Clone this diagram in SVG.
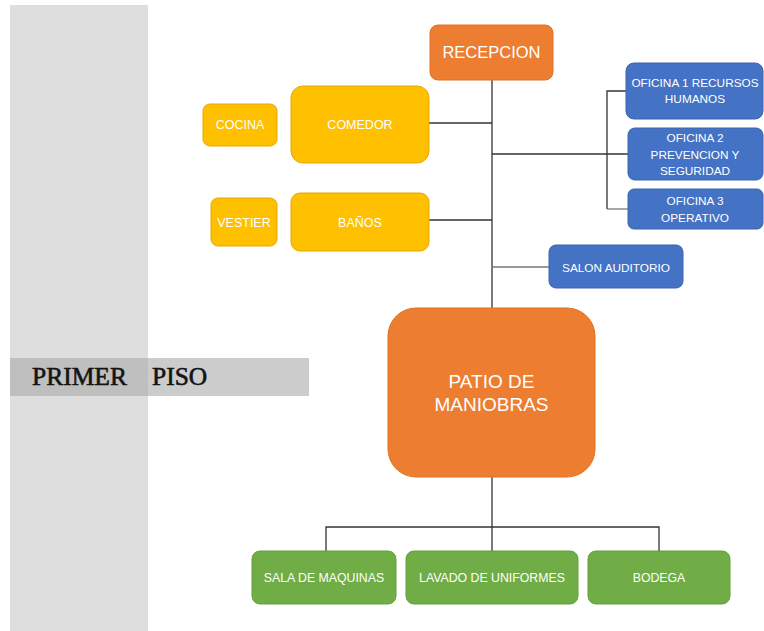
<svg xmlns="http://www.w3.org/2000/svg" width="764" height="631" viewBox="0 0 764 631">
<style>
.t{font-family:"Liberation Sans",Arial,sans-serif;fill:#ffffff;text-anchor:middle}
.or{fill:#ed7d31;stroke:#e07020;stroke-width:1}
.ye{fill:#ffc000;stroke:#e6a800;stroke-width:1}
.bl{fill:#4472c4;stroke:#3a64b0;stroke-width:1}
.gr{fill:#70ad47;stroke:#62a03c;stroke-width:1}
.c{fill:none;stroke:#333333;stroke-width:1.3}
.cl{fill:none;stroke:#777777;stroke-width:1.3}
.fl{font-family:"Liberation Serif","Times New Roman",serif;font-size:25.5px;fill:#141414;stroke:#141414;stroke-width:0.6}
</style>
<rect width="764" height="631" fill="#ffffff"/>
<g id="floor-label">
<rect x="10" y="5" width="138" height="626" fill="#dedede"/>
<rect x="148" y="358" width="161" height="38" fill="#cccccc"/>
<rect x="10" y="358" width="138" height="38" fill="#bfbfbf"/>
<text class="fl" x="32" y="385">PRIMER</text>
<text class="fl" x="152" y="385">PISO</text>
</g>
<g id="connectors">
<path class="c" d="M492 80V308"/>
<path class="c" d="M429 123H492"/>
<path class="c" d="M429 220H492"/>
<path class="c" d="M492 154H628"/>
<path class="c" d="M626 91H607V209"/>
<path class="cl" d="M607 209H628"/>
<path class="cl" d="M492 267H549"/>
<path class="c" d="M492 477V551"/>
<path class="c" d="M326 551V527H659V551"/>
</g>
<g id="recepcion"><rect class="or" x="430" y="25" width="123" height="55" rx="8"/><text class="t" x="491.5" y="58" font-size="16.5">RECEPCION</text></g>
<g id="cocina"><rect class="ye" x="203" y="104" width="74" height="42" rx="7"/><text class="t" x="240" y="129" font-size="12.5">COCINA</text></g>
<g id="comedor"><rect class="ye" x="291" y="86" width="138" height="77" rx="12"/><text class="t" x="360" y="129" font-size="12.5">COMEDOR</text></g>
<g id="vestier"><rect class="ye" x="211" y="198" width="66" height="48" rx="7"/><text class="t" x="244" y="227" font-size="12.5">VESTIER</text></g>
<g id="banos"><rect class="ye" x="291" y="193" width="138" height="58" rx="9"/><text class="t" x="360" y="227" font-size="12.5">BAÑOS</text></g>
<g id="oficina1"><rect class="bl" x="626" y="63" width="137" height="56" rx="8"/><text class="t" x="695" y="87" font-size="11.8">OFICINA 1 RECURSOS</text><text class="t" x="695" y="103" font-size="11.8">HUMANOS</text></g>
<g id="oficina2"><rect class="bl" x="628" y="128" width="135" height="52" rx="7"/><text class="t" x="695" y="142" font-size="11.8">OFICINA 2</text><text class="t" x="695" y="158.5" font-size="11.8">PREVENCION Y</text><text class="t" x="695" y="175" font-size="11.8">SEGURIDAD</text></g>
<g id="oficina3"><rect class="bl" x="628" y="189" width="135" height="40" rx="6"/><text class="t" x="695" y="205" font-size="11.8">OFICINA 3</text><text class="t" x="695" y="222" font-size="11.8">OPERATIVO</text></g>
<g id="salon"><rect class="bl" x="549" y="245" width="134" height="43" rx="7"/><text class="t" x="616" y="272" font-size="11.8">SALON AUDITORIO</text></g>
<g id="patio"><rect class="or" x="388" y="308" width="207" height="169" rx="28"/><text class="t" x="491.5" y="388" font-size="19">PATIO DE</text><text class="t" x="491.5" y="411" font-size="19">MANIOBRAS</text></g>
<g id="sala"><rect class="gr" x="252" y="551" width="144" height="53" rx="8"/><text class="t" x="324" y="582" font-size="12.3">SALA DE MAQUINAS</text></g>
<g id="lavado"><rect class="gr" x="406" y="551" width="172" height="53" rx="8"/><text class="t" x="492" y="582" font-size="12.3">LAVADO DE UNIFORMES</text></g>
<g id="bodega"><rect class="gr" x="588" y="551" width="142" height="53" rx="8"/><text class="t" x="659" y="582" font-size="12.3">BODEGA</text></g>
</svg>
